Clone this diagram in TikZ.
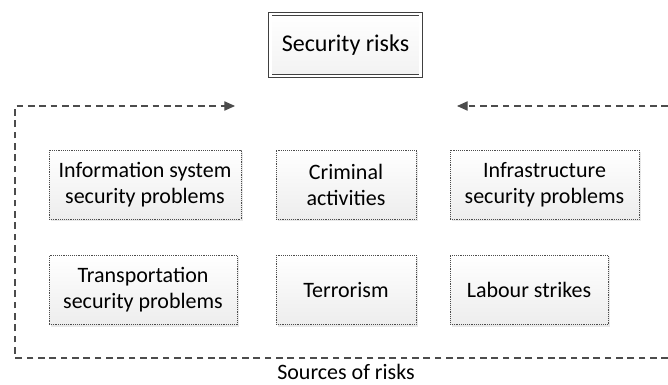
\documentclass[tikz,border=0pt]{standalone}
\usepackage{fontspec}
\setmainfont{Carlito}
\usetikzlibrary{arrows.meta, shadows}

\begin{document}
\begin{tikzpicture}[
  x=0.75pt, y=-0.75pt,
  font=\fontsize{16.5}{19.5}\selectfont,
  riskbox/.style={draw=gray!60!black, densely dotted, align=center, minimum height=52pt, inner sep=3pt,
    top color=white, bottom color=gray!14,
    drop shadow={shadow xshift=1.5pt, shadow yshift=-1.5pt, opacity=0.25, fill=gray!70}},
  titlebox/.style={draw=gray!50!black, double=white, double distance=2.2pt, line width=0.6pt, align=center,
    minimum width=113pt, minimum height=46.5pt, top color=white, bottom color=gray!10,
    font=\fontsize{18}{21}\selectfont},
  frameline/.style={draw=gray!60!black, line width=0.8pt, dash pattern=on 5pt off 3.5pt},
  flow/.style={frameline, -{Triangle[length=8pt, width=7pt]}}
]
\useasboundingbox (0,0) rectangle (668,385);
\node[titlebox] (title) at (345.5,45) {Security risks};
\node[riskbox, minimum width=144pt] (infosys) at (145,184.5) {Information system\\ security problems};
\node[riskbox, minimum width=105pt] (crime) at (346,184.5) {Criminal\\ activities};
\node[riskbox, minimum width=141.75pt] (infra) at (544.5,184.5) {Infrastructure\\ security problems};
\node[riskbox, minimum width=141pt] (transport) at (143,290) {Transportation\\ security problems};
\node[riskbox, minimum width=105pt] (terror) at (346,290) {Terrorism};
\node[riskbox, minimum width=118.5pt] (labour) at (529,290) {Labour strikes};
\node[inner sep=0.5pt] (sources) at (346,372) {Sources of risks};
% dashed frame round the sources
\coordinate (frameSE) at (668,358);
\coordinate (frameSW) at (15,358);
\coordinate (frameNW) at (15,106);
\coordinate (tipL) at (235,106);
\coordinate (frameNE) at (668,106);
\coordinate (tipR) at (457,106);
\draw[flow] (frameSE) -- (frameSW) -- (frameNW) -- (tipL);
\draw[flow] (frameNE) -- (tipR);
\end{tikzpicture}
\end{document}
